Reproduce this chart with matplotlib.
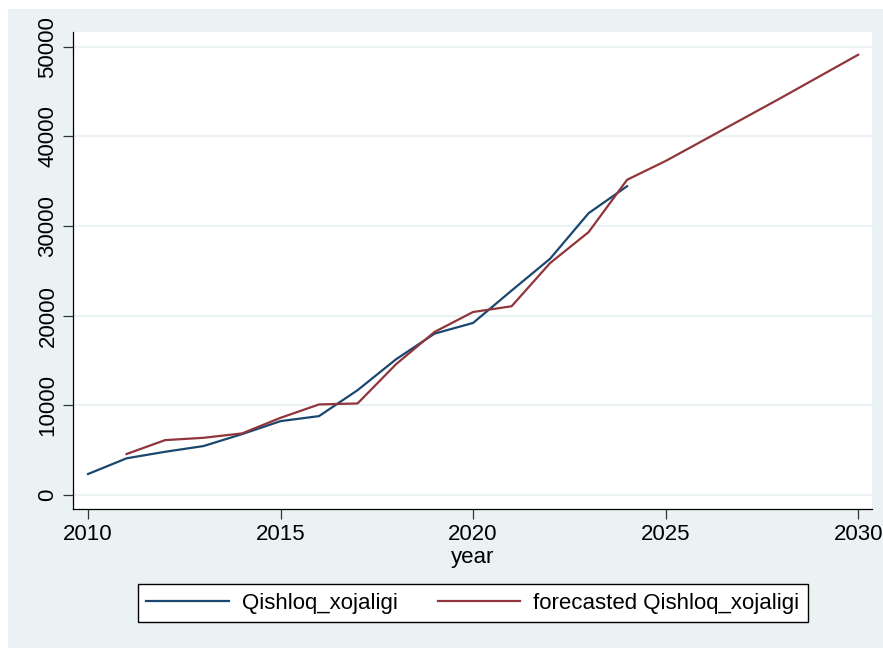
import matplotlib.pyplot as plt
from matplotlib.patches import Rectangle

plt.rcParams["font.family"] = ["Liberation Sans", "DejaVu Sans"]

years = list(range(2010, 2025))
qishloq = [2340, 4090, 4820, 5460, 6790, 8240, 8800, 11690, 15140, 18000,
           19190, 22800, 26350, 31430, 34440]

forecast_years = list(range(2011, 2031))
forecast = [4570, 6120, 6380, 6870, 8610, 10100, 10210, 14590, 18190, 20410,
            21050, 25870, 29320, 35160, 37250, 39600, 41950, 44300, 46700, 49100]

x_ticks = [2010, 2015, 2020, 2025, 2030]
y_ticks = [0, 10000, 20000, 30000, 40000, 50000]

BG = "#eaf2f3"
NAVY = "#1a476f"
MAROON = "#90353b"
FS = 16

W, H = 883, 648
fig = plt.figure(figsize=(W / 100, H / 100), dpi=100, facecolor="white")
# light outer panel behind the plot area
fig.patches.append(Rectangle((8 / W, 0), 1, 1 - 9 / H, transform=fig.transFigure,
                             facecolor=BG, edgecolor="none", zorder=-10))

ax = fig.add_axes([73 / W, 1 - 509 / H, (872 - 73) / W, (509 - 32) / H])
ax.set_zorder(2)
ax.set_facecolor("white")
ax.plot(years, qishloq, color=NAVY, lw=1.6, label="Qishloq_xojaligi")
ax.plot(forecast_years, forecast, color=MAROON, lw=1.6, label="forecasted Qishloq_xojaligi")

ax.set_xlim(2009.61, 2030.36)
ax.set_ylim(-1561, 51640)
ax.set_xticks(x_ticks)
ax.set_yticks(y_ticks)
ax.grid(axis="y", color=BG, lw=1.6)
ax.set_axisbelow(True)
for side in ["top", "right"]:
    ax.spines[side].set_visible(False)
for side in ["left", "bottom"]:
    ax.spines[side].set_color("#000000")
    ax.spines[side].set_linewidth(0.9)
ax.tick_params(length=7, width=0.9, color="#333333", labelsize=FS)
for lbl in ax.get_yticklabels():
    lbl.set_rotation(90)
    lbl.set_va("center")
ax.set_xlabel("year", fontsize=FS, labelpad=2)

handles, labels = ax.get_legend_handles_labels()
leg = fig.legend(handles, labels, loc="center",
                 bbox_to_anchor=((133 + 813) / 2 / W, 1 - 603 / H),
                 ncol=2, fontsize=FS, frameon=True, fancybox=False,
                 framealpha=1, facecolor="white",
                 handlelength=3.7, handletextpad=0.6, columnspacing=1.8, borderpad=0.4)
leg.set_zorder(3)
leg.get_frame().set_edgecolor("black")
leg.get_frame().set_linewidth(1.0)

fig.savefig("out.png", dpi=100, facecolor="white")
